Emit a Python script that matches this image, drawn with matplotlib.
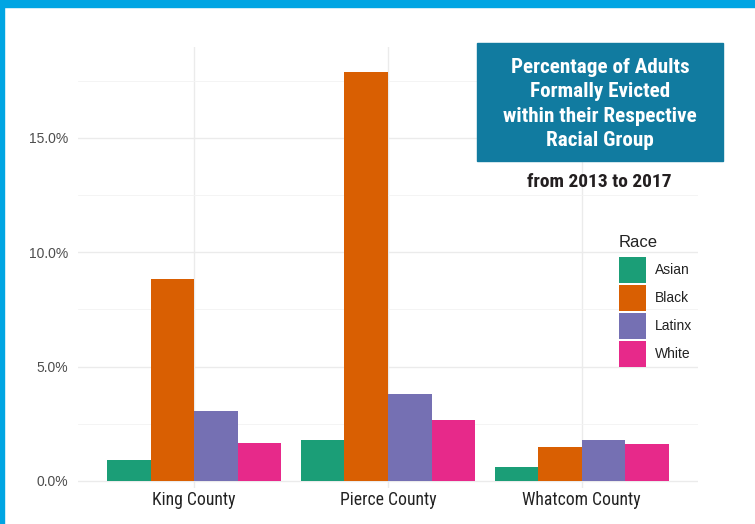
import numpy as np
import matplotlib.pyplot as plt
from matplotlib.patches import Patch, Rectangle

# eviction rates (%)
counties = ['King County', 'Pierce County', 'Whatcom County']
races = ['Asian', 'Black', 'Latinx', 'White']
asian = [0.92, 1.79, 0.61]
black = [8.83, 17.88, 1.49]
latinx = [3.06, 3.80, 1.79]
white = [1.66, 2.67, 1.62]
colors = ['#1B9E77', '#D95F02', '#7570B3', '#E7298A']
title_lines = ['Percentage of Adults', 'Formally Evicted',
               'within their Respective', 'Racial Group']

cond = ['Roboto Condensed', 'DejaVu Sans']

fig = plt.figure(figsize=(7.55, 5.24), dpi=100)
ax = fig.add_axes([78 / 755, 36 / 524, 620 / 755, 441 / 524])

x = np.arange(1, len(counties) + 1)
w = 0.9 / 4
for i, (vals, c) in enumerate(zip([asian, black, latinx, white], colors)):
    ax.bar(x - 0.45 + w * (i + 0.5), vals, width=w, color=c, zorder=3)

ax.set_xlim(0.4, 3.6)
ax.set_ylim(-0.31, 18.98)
ax.set_yticks([0, 5, 10, 15])
ax.set_yticks([2.5, 7.5, 12.5, 17.5], minor=True)
ax.set_yticklabels(['0.0%', '5.0%', '10.0%', '15.0%'], color='#4D4D4D',
                   fontsize=10, family='Liberation Sans')
ax.set_xticks(x)
ax.set_xticklabels(counties, fontsize=12.7, color='#222222', family=cond)
ax.grid(which='major', color='#EBEBEB', lw=1.0, zorder=0)
ax.grid(which='minor', axis='y', color='#F3F3F3', lw=0.6, zorder=0)
ax.tick_params(which='both', length=0)
ax.tick_params(axis='y', pad=7)
ax.tick_params(axis='x', pad=2.5)
for s in ax.spines.values():
    s.set_visible(False)

# title box
fig.patches.append(Rectangle((477 / 755, 1 - 161 / 524), 246 / 755, 118 / 524,
                             transform=fig.transFigure, color='#117BA0', zorder=5))
for k, line in enumerate(title_lines):
    fig.text(600 / 755, 1 - (73 + 24.4 * k) / 524, line, ha='center', va='baseline',
             color='white', fontsize=15.2, weight='bold', family=cond, zorder=6)
fig.text(599 / 755, 1 - 187 / 524, 'from 2013 to 2017', ha='center', va='baseline',
         color='#231F20', fontsize=14, weight='bold', family=cond)

# legend
fig.text(619 / 755, 1 - 247 / 524, 'Race', ha='left', va='baseline',
         fontsize=12, family='Liberation Sans', color='#222222')
handles = [Patch(facecolor=c, edgecolor='none', label=r) for c, r in zip(colors, races)]
leg = fig.legend(handles=handles, loc='upper left',
                 bbox_to_anchor=(619 / 755, 1 - 257 / 524), frameon=False,
                 prop={'family': 'Liberation Sans', 'size': 10},
                 handlelength=1.94, handleheight=2.5, labelspacing=0.15,
                 handletextpad=0.65, borderpad=0, borderaxespad=0)
for t in leg.get_texts():
    t.set_color('#222222')

# blue frame on top and left
fig.patches.append(Rectangle((0, 1 - 7 / 524), 1, 7 / 524, transform=fig.transFigure,
                             color='#00A5E3', zorder=10))
fig.patches.append(Rectangle((0, 0), 4 / 755, 1, transform=fig.transFigure,
                             color='#00A5E3', zorder=10))

fig.savefig('out.png', dpi=100)
